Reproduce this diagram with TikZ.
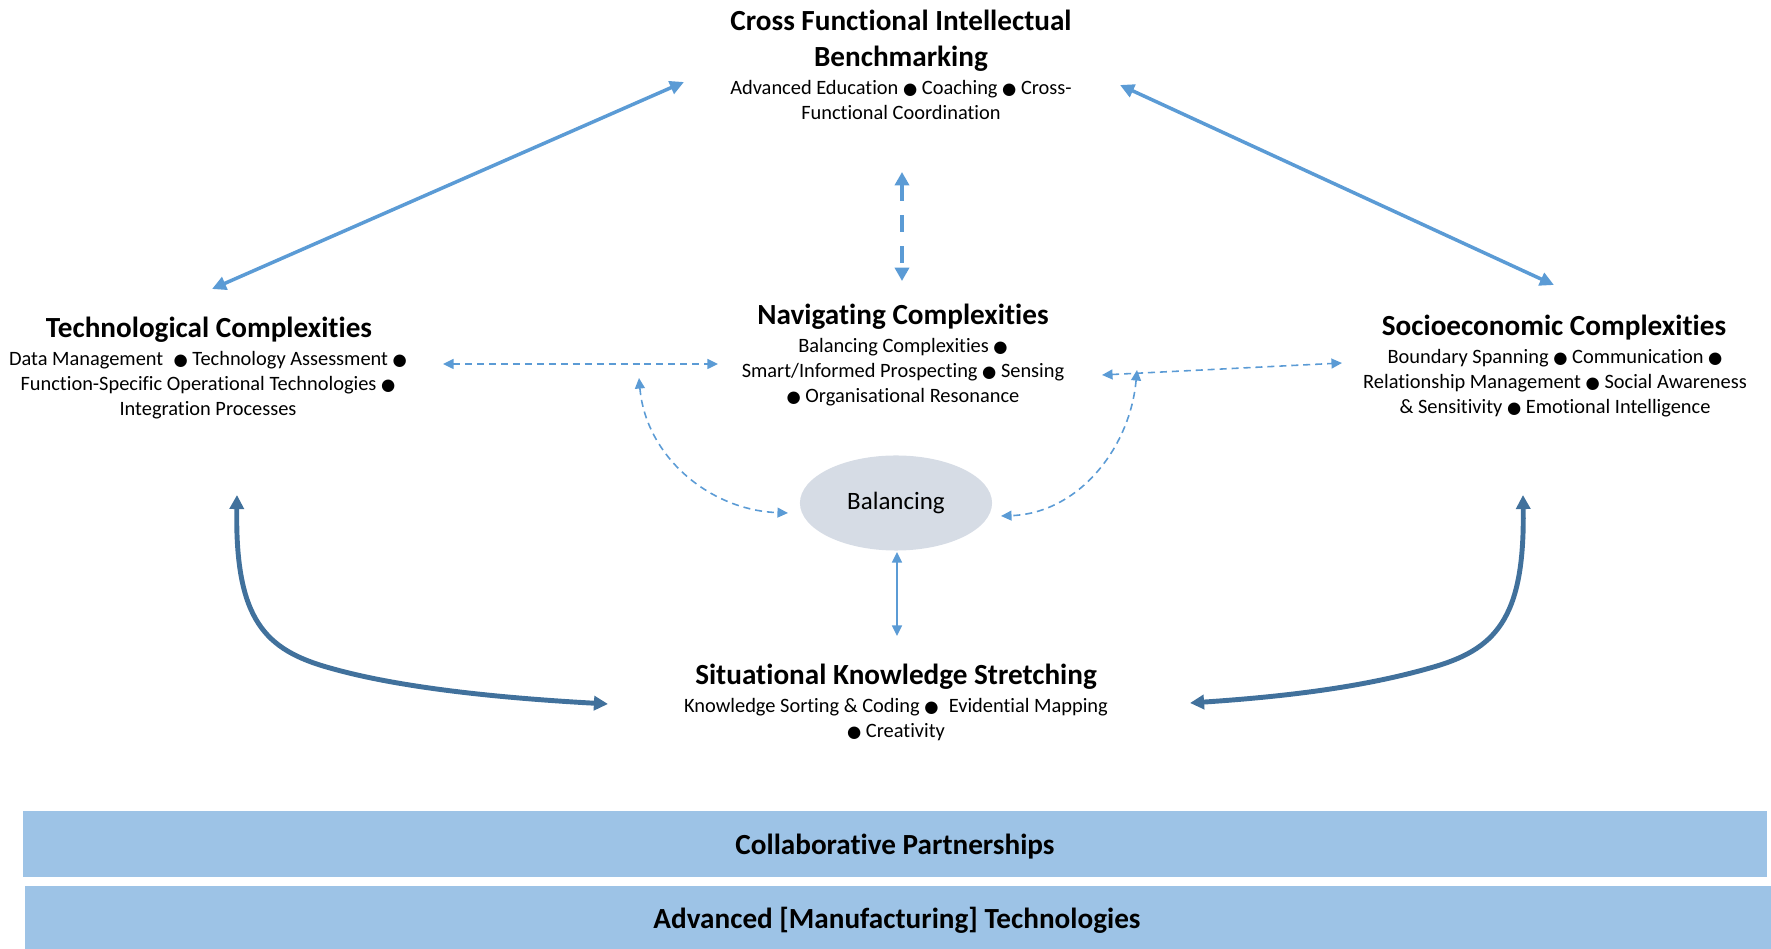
\documentclass[tikz,border=0pt]{standalone}
\usepackage{fontspec}
\setmainfont{Carlito}[Ligatures=NoCommon]
\newfontfamily\symfont{DejaVu Sans}
\usetikzlibrary{arrows.meta,shapes.geometric}
\definecolor{arrowblue}{HTML}{5B9BD5}
\definecolor{curveblue}{HTML}{41719C}
\definecolor{barblue}{HTML}{9DC3E6}
\definecolor{ovalgrey}{HTML}{D6DCE5}
\newcommand{\bul}{{\symfont\scalebox{0.8}{●}}}
\tikzset{
  ttl/.style={font=\fontsize{8.3}{10.2}\selectfont\bfseries, align=center, inner sep=0pt},
  sub/.style={font=\fontsize{5.8}{7.1}\selectfont, align=center, inner sep=0pt},
  link/.style={arrowblue, line width=1pt,
    {Triangle[length=4pt,width=3.8pt]}-{Triangle[length=4pt,width=3.8pt]}},
  biglink/.style={arrowblue, line width=1.2pt, dash pattern=on 4.8pt off 4pt,
    {Triangle[length=3.8pt,width=4pt]}-{Triangle[length=3.8pt,width=4pt]}},
  dlink/.style={arrowblue, line width=0.45pt, dash pattern=on 2pt off 1.4pt,
    {Triangle[length=3pt,width=2.8pt]}-{Triangle[length=3pt,width=2.8pt]}},
  thinlink/.style={arrowblue, line width=0.6pt,
    {Triangle[length=3pt,width=2.8pt]}-{Triangle[length=3pt,width=2.8pt]}},
  curvelink/.style={curveblue, line width=1.4pt,
    {Triangle[length=4pt,width=4pt]}-{Triangle[length=4pt,width=4pt]}},
  oval/.style={ellipse, fill=ovalgrey, minimum width=1.92cm, minimum height=0.95cm,
    inner sep=0pt, font=\fontsize{7.1}{8.5}\selectfont}
}

\begin{document}
\begin{tikzpicture}[x=0.01cm,y=-0.01cm]
    \useasboundingbox (0,0) rectangle (1771,949);

    \node[ttl] (cross) at (901,41) {Cross Functional Intellectual\\Benchmarking};
    \node[sub] (crosssub) at (901,100) {Advanced Education \bul{} Coaching \bul{} Cross-\\Functional Coordination};

    \node[ttl] (tech) at (209,330) {Technological Complexities};
    \node[sub] (techsub) at (208,385) {Data Management \;\bul{} Technology Assessment \bul\\Function-Specific Operational Technologies \bul\\Integration Processes};

    \node[ttl] (nav) at (903,317) {Navigating Complexities};
    \node[sub] (navsub) at (903,372) {Balancing Complexities \bul\\Smart/Informed Prospecting \bul{} Sensing\\\bul{} Organisational Resonance};

    \node[ttl] (socio) at (1554,328) {Socioeconomic Complexities};
    \node[sub] (sociosub) at (1555,383) {Boundary Spanning \bul{} Communication \bul\\Relationship Management \bul{} Social Awareness\\\& Sensitivity \bul{} Emotional Intelligence};

    \node[oval] (bal) at (896,503) {Balancing};

    \node[ttl] (sit) at (896,677) {Situational Knowledge Stretching};
    \node[sub] (sitsub) at (896,720) {Knowledge Sorting \& Coding \bul{} \;Evidential Mapping\\\bul{} Creativity};

    \fill[barblue] (23,811) rectangle (1767,877);
    \node[ttl] (collab) at (895,847) {Collaborative Partnerships};
    \fill[barblue] (25,886) rectangle (1771,949);
    \node[ttl] (amt) at (897,920) {Advanced [Manufacturing] Technologies};

    \coordinate (crossL) at (684,82);
    \coordinate (crossR) at (1120,85);
    \coordinate (crossB) at (902,172);
    \coordinate (techT) at (212,289);
    \coordinate (techE) at (443,364);
    \coordinate (techB) at (237,495);
    \coordinate (socioT) at (1554,285);
    \coordinate (socioW) at (1342,363);
    \coordinate (socioB) at (1523,495);
    \coordinate (navT) at (902,281);
    \coordinate (navW) at (718,364);
    \coordinate (navE) at (1102,375);
    \coordinate (navSW) at (639,378);
    \coordinate (navSE) at (1137,370);
    \coordinate (balW) at (788,513);
    \coordinate (balE) at (1001,516);
    \coordinate (balS) at (897,552);
    \coordinate (sitN) at (897,636);
    \coordinate (sitW) at (608,704);
    \coordinate (sitE) at (1190,703);

    \draw[link] (techT) -- (crossL);
    \draw[link] (crossR) -- (socioT);
    \draw[biglink] (crossB) -- (navT);
    \draw[dlink] (techE) -- (navW);
    \draw[dlink] (navE) -- (socioW);
    \draw[dlink] (navSW) to[out=-85,in=178] (balW);
    \draw[dlink] (navSE) to[out=-95,in=2] (balE);
    \draw[thinlink] (balS) -- (sitN);
    \draw[curvelink] (techB) .. controls (235,620) and (265,650) .. (330,668)
        .. controls (400,688) and (500,698) .. (sitW);
    \draw[curvelink] (socioB) .. controls (1525,620) and (1495,650) .. (1430,668)
        .. controls (1360,688) and (1280,697) .. (sitE);
\end{tikzpicture}
\end{document}
